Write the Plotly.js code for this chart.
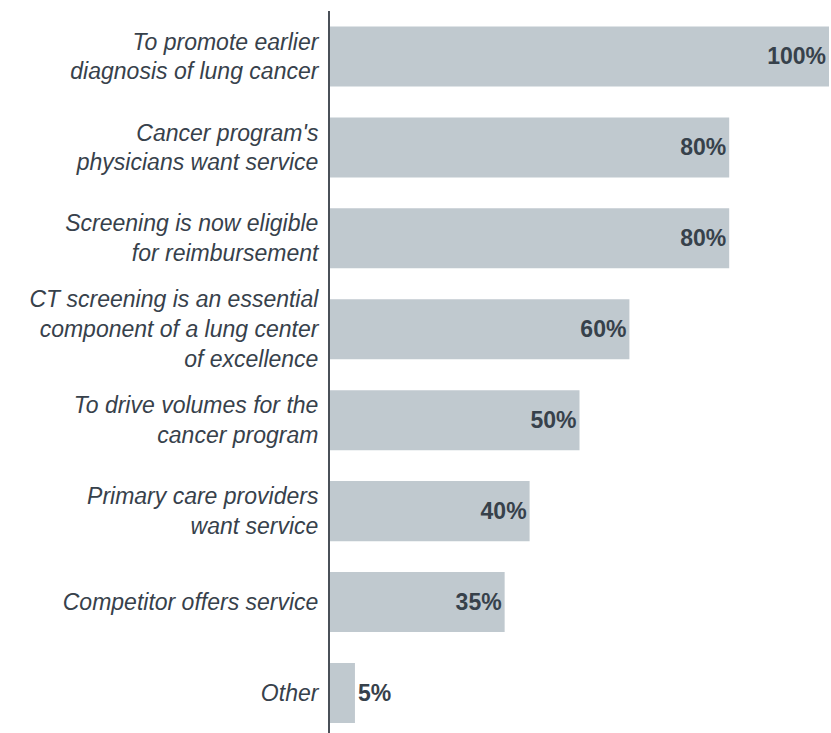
<!DOCTYPE html>
<html>
<head>
<meta charset="utf-8">
<script src="https://cdn.plot.ly/plotly-3.0.1.min.js"></script>
<style>html,body{margin:0;padding:0;background:#fff;}#chart{width:831px;height:733px;}</style>
</head>
<body>
<div id="chart"></div>
<script>
const categories = [
  "To promote earlier<br>diagnosis of lung cancer",
  "Cancer program's<br>physicians want service",
  "Screening is now eligible<br>for reimbursement",
  "CT screening is an essential<br>component of a lung center<br>of excellence",
  "To drive volumes for the<br>cancer program",
  "Primary care providers<br>want service",
  "Competitor offers service",
  "Other"
];
const values = [100, 80, 80, 60, 50, 40, 35, 5];
const valueLabels = ["100%", "80%", "80%", "60%", "50%", "40%", "35%", "5%"];

const textColor = "#37414b";
const fam = "Liberation Sans, Arial, sans-serif";
const trace = {
  type: "bar",
  orientation: "h",
  x: values,
  y: categories,
  text: valueLabels,
  textposition: "auto",
  insidetextanchor: "end",
  constraintext: "none",
  cliponaxis: false,
  textfont: {family: fam, size: 23, color: textColor, weight: "bold"},
  insidetextfont: {family: fam, size: 23, color: textColor, weight: "bold"},
  outsidetextfont: {family: fam, size: 23, color: textColor, weight: "bold"},
  marker: {color: "#c0c9cf", line: {width: 0}},
  hoverinfo: "skip"
};

const layout = {
  width: 831,
  height: 733,
  margin: {l: 330, r: 2, t: 11, b: 0, pad: 0},
  paper_bgcolor: "#ffffff",
  plot_bgcolor: "#ffffff",
  showlegend: false,
  bargap: 0.34,
  xaxis: {range: [0, 100], showgrid: false, zeroline: false, showticklabels: false, showline: false, ticks: ""},
  yaxis: {
    type: "category",
    range: [7.44, -0.5],
    showgrid: false,
    zeroline: false,
    showline: true,
    linecolor: "#4a5058",
    linewidth: 2,
    ticks: "",
    ticklabelstandoff: 5,
    tickfont: {family: fam, size: 23, color: textColor, style: "italic"}
  }
};

Plotly.newPlot("chart", [trace], layout, {staticPlot: true, displayModeBar: false});
</script>
</body>
</html>
